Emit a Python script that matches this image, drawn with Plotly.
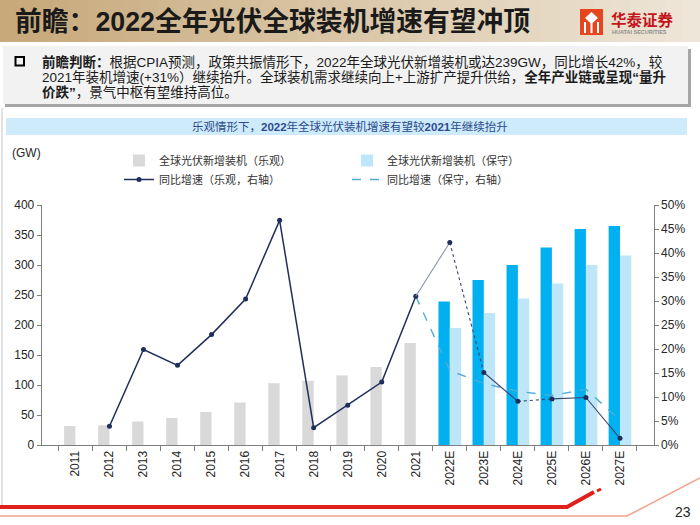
import plotly.graph_objects as go

# ---------------- data ----------------
years = ["2011", "2012", "2013", "2014", "2015", "2016", "2017", "2018", "2019",
         "2020", "2021", "2022E", "2023E", "2024E", "2025E", "2026E", "2027E"]
install_opt = [31.5, 33, 39, 45, 55, 71, 103, 107, 116, 130, 170,
               239, 275, 300, 329, 360, 365]
install_cons = [None, None, None, None, None, None, None, None, None, None, None,
                195, 220, 244, 269, 300, 316]
growth_opt = [None, 3.9, 19.9, 16.6, 23.0, 30.4, 46.8, 3.6, 8.3, 13.1, 31.0,
              42.2, 15.1, 9.1, 9.6, 9.9, 1.4]          # %
growth_cons = [None, None, None, None, None, None, None, None, None, None, 31.0,
               15.5, 12.8, 11.2, 10.3, 11.6, 5.2]      # %
y_ticks_left = [0, 50, 100, 150, 200, 250, 300, 350, 400]

W, H = 700, 525
def X(px):
    return px / W
def Y(py):
    return 1 - py / H

CJK = "Liberation Sans, Noto Sans CJK SC"
NAVY = "#1F2F5C"

fig = go.Figure()

# ---------------- bars ----------------
bar_colors = ["#00B0F0" if y.endswith("E") else "#D9D9D9" for y in years]
fig.add_trace(go.Bar(x=years, y=install_opt, name="全球光伏新增装机（乐观）",
                     marker=dict(color=bar_colors, line_width=0),
                     legend="legend", legendgroup="a", legendrank=1))
fig.add_trace(go.Bar(x=years, y=install_cons, name="全球光伏新增装机（保守）",
                     marker=dict(color="#BDE6F8", line_width=0),
                     legend="legend2", legendgroup="c", legendrank=1))

# ---------------- lines ----------------
first_fc = next(i for i, y in enumerate(years) if y.endswith("E"))
pct = lambda v: None if v is None else v / 100.0

# conservative dashed line
fig.add_trace(go.Scatter(x=years[first_fc - 1:], y=[pct(v) for v in growth_cons[first_fc - 1:]],
                         yaxis="y2", mode="lines", name="同比增速（保守，右轴）",
                         line=dict(color="#4FAED6", width=1.4, dash="dash"),
                         legend="legend2", legendgroup="d", legendrank=2))

# optimistic historical line
fig.add_trace(go.Scatter(x=years[:first_fc], y=[pct(v) for v in growth_opt[:first_fc]],
                         yaxis="y2", mode="lines+markers", name="同比增速（乐观，右轴）",
                         line=dict(color=NAVY, width=1.5),
                         marker=dict(color=NAVY, size=5),
                         legend="legend", legendgroup="b", legendrank=2))

# optimistic forecast segments (thinner, mixed styles)
fc_styles = [("#8A93AD", "solid"), ("#3A4670", "dot"), ("#3A4670", "solid"),
             ("#3A4670", "dot"), ("#3A4670", "solid"), ("#3A4670", "solid")]
for j, k in enumerate(range(first_fc - 1, len(years) - 1)):
    col, dash = fc_styles[j]
    fig.add_trace(go.Scatter(x=[years[k], years[k + 1]], y=[pct(growth_opt[k]), pct(growth_opt[k + 1])],
                             yaxis="y2", mode="lines", showlegend=False, hoverinfo="skip",
                             line=dict(color=col, width=1.1, dash=dash)))
fig.add_trace(go.Scatter(x=years[first_fc:], y=[pct(v) for v in growth_opt[first_fc:]],
                         yaxis="y2", mode="markers", showlegend=False,
                         marker=dict(color=NAVY, size=5)))

# ---------------- shapes ----------------
shapes = []
# title band gradient
c0 = (199, 169, 122)
c1 = (238, 230, 216)
n = 40
for i in range(n):
    t = i / (n - 1)
    c = tuple(int(c0[k] + (c1[k] - c0[k]) * t) for k in range(3))
    shapes.append(dict(type="rect", xref="paper", yref="paper", layer="below",
                       x0=X(i * W / n), x1=X((i + 1) * W / n + 0.5), y0=Y(42), y1=Y(0),
                       fillcolor="rgb(%d,%d,%d)" % c, line_width=0))
# logo icon
shapes.append(dict(type="rect", xref="paper", yref="paper", x0=X(580), x1=X(603), y0=Y(35), y1=Y(9),
                   fillcolor="#E5461F", line_width=0))
for lx in (585, 591.5, 598):
    shapes.append(dict(type="line", xref="paper", yref="paper", x0=X(lx), x1=X(lx), y0=Y(33), y1=Y(22),
                       line=dict(color="white", width=2)))
shapes.append(dict(type="path", xref="paper", yref="paper",
                   path="M %f,%f L %f,%f L %f,%f L %f,%f Z" % (X(591.5), Y(12), X(598), Y(18), X(591.5), Y(24), X(585), Y(18)),
                   fillcolor="white", line_width=0))
# text box shadow + box
shapes.append(dict(type="rect", xref="paper", yref="paper", layer="below",
                   x0=X(5), x1=X(691), y0=Y(107), y1=Y(49), fillcolor="#A6A6A6", line_width=0))
shapes.append(dict(type="rect", xref="paper", yref="paper", layer="below",
                   x0=X(3), x1=X(688), y0=Y(104), y1=Y(46), fillcolor="#F2F2F2", line_width=0))
# bullet square
shapes.append(dict(type="rect", xref="paper", yref="paper",
                   x0=X(15.5), x1=X(24), y0=Y(65.5), y1=Y(57), line=dict(color="black", width=2)))
# subtitle bar
shapes.append(dict(type="rect", xref="paper", yref="paper", layer="below",
                   x0=X(6), x1=X(687), y0=Y(135), y1=Y(118), fillcolor="#CDEBFB", line_width=0))
# left faint border
shapes.append(dict(type="line", xref="paper", yref="paper", layer="below",
                   x0=X(2), x1=X(2), y0=Y(505), y1=Y(108), line=dict(color="#D9D9D9", width=1.5)))
# bottom decorations
def pth(pts):
    return "M " + " L ".join("%f,%f" % (X(a), Y(b)) for a, b in pts)
shapes.append(dict(type="path", xref="paper", yref="paper", path=pth([(0, 507), (567, 507), (594, 492)]),
                   line=dict(color="#E0201B", width=4)))
shapes.append(dict(type="path", xref="paper", yref="paper", path=pth([(597, 491), (601, 489)]),
                   line=dict(color="#E0201B", width=3)))
shapes.append(dict(type="path", xref="paper", yref="paper", path=pth([(0, 516), (627, 516), (700, 478)]),
                   line=dict(color="#F2A48A", width=1.5)))

# ---------------- annotations ----------------
ann = []
ann.append(dict(text="<b>前瞻：2022全年光伏全球装机增速有望冲顶</b>", x=X(13), y=Y(22),
                xanchor="left", yanchor="middle", font=dict(family=CJK, size=26.8, color="#1A1A1A")))
ann.append(dict(text="<b>华泰证券</b>", x=X(609), y=Y(18.5), xanchor="left", yanchor="middle",
                font=dict(family="Noto Sans CJK SC", size=15.5, color="#C3161C")))
ann.append(dict(text="<b>HUATAI SECURITIES</b>", x=X(610), y=Y(31.5), xanchor="left", yanchor="middle",
                font=dict(family="Liberation Sans", size=5.5, color="#8C8C8C")))
body = [
    "<b>前瞻判断：</b>根据CPIA预测，政策共振情形下，2022年全球光伏新增装机或达239GW，同比增长42%，较",
    "2021年装机增速(+31%）继续抬升。全球装机需求继续向上+上游扩产提升供给，<b>全年产业链或呈现“量升</b>",
    "<b>价跌”</b>，景气中枢有望维持高位。",
]
for i, line in enumerate(body):
    ann.append(dict(text=line, x=X(40), y=Y(62 + i * 15), xanchor="left", yanchor="middle",
                    font=dict(family=CJK, size=13.5, color="#1A1A1A")))
ann.append(dict(text="乐观情形下，<b>2022</b>年全球光伏装机增速有望较<b>2021</b>年继续抬升", x=0.5, y=Y(126.5),
                xanchor="center", yanchor="middle", font=dict(family=CJK, size=11.5, color="#2E4A8C")))
ann.append(dict(text="(GW)", x=X(10), y=Y(153), xanchor="left", yanchor="middle",
                font=dict(family="Liberation Sans", size=12, color="#262626")))
ann.append(dict(text="23", x=X(683), y=Y(512), xanchor="center", yanchor="middle",
                font=dict(family="Liberation Sans", size=14, color="#262626")))
for a in ann:
    a.update(xref="paper", yref="paper", showarrow=False)

axis_col = "#7F7F7F"
leg_font = dict(family="Noto Sans CJK SC", size=11, color="#333333")
fig.update_layout(
    width=W, height=H, margin=dict(l=0, r=0, t=0, b=0),
    paper_bgcolor="white", plot_bgcolor="rgba(0,0,0,0)",
    barmode="group", bargap=1 / 3, bargroupgap=0,
    font=dict(family=CJK, size=12, color="#262626"),
    xaxis=dict(domain=[X(41.7), X(653.7)], type="category", showline=True, linecolor=axis_col,
               ticks="outside", tickson="boundaries", ticklen=5, tickcolor=axis_col,
               tickangle=-90, tickfont=dict(family="Liberation Sans", size=12, color="#262626"),
               showgrid=False, zeroline=False, automargin=False, fixedrange=True),
    yaxis=dict(domain=[Y(445), Y(205)], range=[0, 400], tickvals=y_ticks_left, showline=True,
               linecolor=axis_col, ticks="outside", ticklen=4, tickcolor=axis_col,
               tickfont=dict(family="Liberation Sans", size=12, color="#262626"),
               showgrid=False, zeroline=False, automargin=False),
    yaxis2=dict(overlaying="y", side="right", anchor="x", range=[0, 0.5], dtick=0.05, tickformat=".0%",
                showline=True, linecolor=axis_col, ticks="outside", ticklen=4, tickcolor=axis_col,
                tickfont=dict(family="Liberation Sans", size=12, color="#262626"),
                showgrid=False, zeroline=False, automargin=False),
    legend=dict(x=X(119), y=Y(146), xanchor="left", yanchor="top", orientation="v",
                font=leg_font, bgcolor="rgba(0,0,0,0)", traceorder="grouped", tracegroupgap=0),
    legend2=dict(x=X(347), y=Y(146), xanchor="left", yanchor="top", orientation="v",
                 font=leg_font, bgcolor="rgba(0,0,0,0)", traceorder="grouped", tracegroupgap=0),
    shapes=shapes, annotations=ann, showlegend=True,
)

fig.write_html("out.html", config={"displayModeBar": False},
               post_script="document.body.style.margin='0';document.body.style.overflow='hidden';")
